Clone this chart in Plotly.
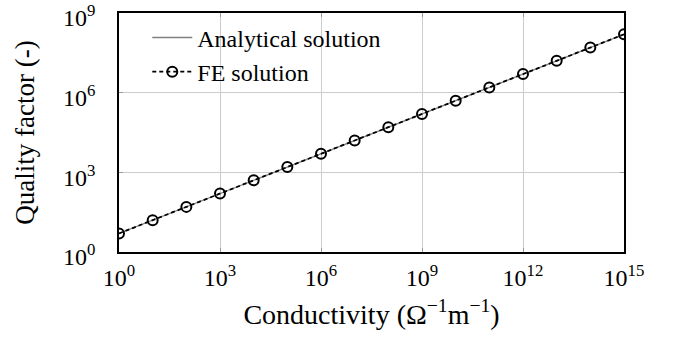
import plotly.graph_objects as go

conductivity = [1e0, 1e1, 1e2, 1e3, 1e4, 1e5, 1e6, 1e7, 1e8, 1e9, 1e10, 1e11, 1e12, 1e13, 1e14, 1e15]
q_analytical = [5.0, 15.8, 50, 158, 500, 1580, 5000, 1.58e4, 5e4, 1.58e5, 5e5, 1.58e6, 5e6, 1.58e7, 5e7, 1.58e8]
q_fe = [5.0, 15.8, 50, 158, 500, 1580, 5000, 1.58e4, 5e4, 1.58e5, 5e5, 1.58e6, 5e6, 1.58e7, 5e7, 1.58e8]

x_tickvals = [1e0, 1e3, 1e6, 1e9, 1e12, 1e15]
x_ticktext = ["10<sup>0</sup>", "10<sup>3</sup>", "10<sup>6</sup>", "10<sup>9</sup>", "10<sup>12</sup>", "10<sup>15</sup>"]
y_tickvals = [1e0, 1e3, 1e6, 1e9]
y_ticktext = ["10<sup>0</sup>", "10<sup>3</sup>", "10<sup>6</sup>", "10<sup>9</sup>"]

FONT = "Liberation Serif"

fig = go.Figure()
fig.add_trace(go.Scatter(
    x=conductivity, y=q_analytical, mode="lines", name="Analytical solution",
    line=dict(color="#808080", width=1.3),
))
fig.add_trace(go.Scatter(
    x=conductivity, y=q_fe, mode="lines+markers", name="FE solution",
    line=dict(color="black", width=1.8, dash="4px,3px"),
    marker=dict(symbol="circle-open", size=10, color="black", line=dict(width=2, color="black")),
))

axis_common = dict(
    type="log", showgrid=True, gridcolor="#cccccc", gridwidth=1,
    showline=True, linecolor="black", linewidth=1.6, mirror="ticks",
    ticks="inside", ticklen=4, tickcolor="#999999", tickwidth=1,
    tickfont=dict(family=FONT, size=24, color="black"),
    zeroline=False, automargin=False, ticklabeloverflow="allow",
)

fig.update_xaxes(
    **axis_common, range=[0, 15], tickvals=x_tickvals, ticktext=x_ticktext,
    ticklabelstandoff=3,
    title=dict(text="Conductivity (Ω<sup>−1</sup>m<sup>−1</sup>)", font=dict(family=FONT, size=28, color="black"), standoff=15),
)
fig.update_yaxes(
    **axis_common, range=[0, 9], tickvals=y_tickvals, ticktext=y_ticktext,
    ticklabelstandoff=17, ticklabelshift=5,
    title=dict(text="Quality factor (-)", font=dict(family=FONT, size=27, color="black"), standoff=21),
)

fig.update_layout(
    width=675, height=337,
    margin=dict(l=119, r=51, t=13, b=85),
    paper_bgcolor="white", plot_bgcolor="white",
    showlegend=True,
    legend=dict(x=0.056, y=0.99, xanchor="left", yanchor="top",
                bgcolor="rgba(255,255,255,0)", borderwidth=0,
                font=dict(family=FONT, size=24, color="black"),
                tracegroupgap=0, itemwidth=40),
)

fig.write_html("out.html", config={"displayModeBar": False},
               post_script="document.body.style.margin='0';")
